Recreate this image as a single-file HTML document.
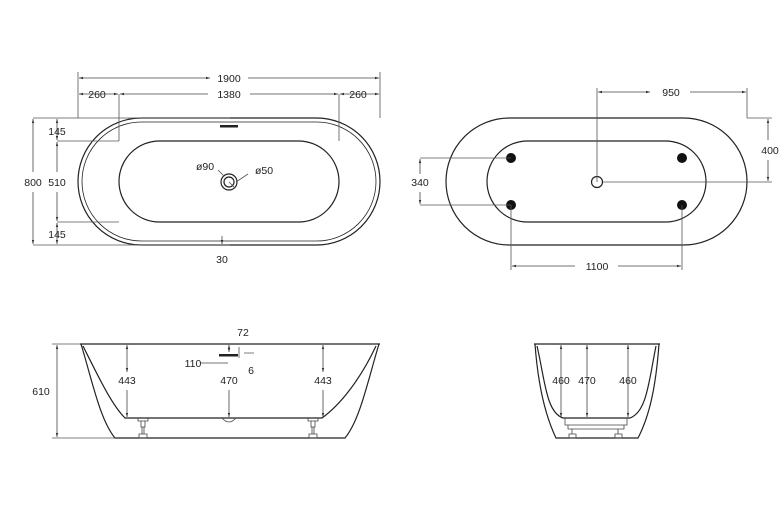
<!DOCTYPE html>
<html><head><style>body{margin:0;background:#fff}svg{display:block}text{font-family:"Liberation Sans",sans-serif;font-size:10.5px;fill:#222;text-anchor:middle}</style></head><body>
<svg width="784" height="514" viewBox="0 0 784 514" xmlns="http://www.w3.org/2000/svg">
<defs><marker id="a" viewBox="0 0 10 10" refX="10" refY="5" markerWidth="5" markerHeight="5" orient="auto-start-reverse"><path d="M0,2L10,5L0,8z" fill="#333"/></marker></defs>
<g fill="none" stroke="#222" stroke-width="1.2">
<rect x="78" y="118" width="302" height="127" rx="63.5"/>
<rect x="82" y="122" width="294" height="119" rx="59.5" stroke-width="0.8"/>
<rect x="119" y="141" width="220" height="81" rx="40.5"/>
<circle cx="229" cy="182" r="8"/><circle cx="229" cy="182" r="5"/>
<rect x="446" y="118" width="301" height="127" rx="63.5"/>
<rect x="487" y="141" width="219" height="81" rx="40.5"/>
<circle cx="597" cy="182" r="5.5"/>
<path d="M80,344 H380 M81,344 C92,380 100,420 115,438 H345 C360,420 368,380 379,344"/>
<path d="M83,346 C100,380 112,405 125,418 H322 C340,405 360,380 376,346"/>
<path d="M534,344 H660 M535,344 C538,385 545,415 556,438 H638 C650,415 656,385 659,344"/>
<path d="M537,346 C545,380 546,412 563,418 H630 C647,412 649,380 656,346"/>
</g>
<rect x="220" y="125" width="18" height="2.5" fill="#222"/>
<rect x="219" y="354" width="19" height="2.5" fill="#222"/>
<g fill="#111"><circle cx="511" cy="158" r="5"/><circle cx="682" cy="158" r="5"/><circle cx="511" cy="205" r="5"/><circle cx="682" cy="205" r="5"/></g>
<g fill="none" stroke="#444" stroke-width="0.8">
<path d="M138,418 v3 h10 v-3 M141,421 v6 h4 v-6 M142,427 v7 M144,427 v7 M139,434 h8 v4 h-8z"/>
<path d="M308,418 v3 h10 v-3 M311,421 v6 h4 v-6 M312,427 v7 M314,427 v7 M309,434 h8 v4 h-8z"/>
<path d="M222,418 q7,8 14,0"/>
<path d="M565,418 v7 h62 v-7 M568,425 v4 h56 v-4 M572,429 v5 M618,429 v5 M569,434 h7 v4 h-7z M615,434 h7 v4 h-7z"/>
</g>
<g fill="none" stroke="#555" stroke-width="0.8">
<path d="M78,72 V118 M380,72 V118 M119,94 V141 M339,94 V141 M33,118 H230 M33,245 H230 M57,141 H119 M57,222 H119 M597,88 V182 M747,88 V118 M747,118 H772 M603,182 H772 M420,158 H511 M420,205 H511 M511,205 V270 M682,205 V270 M52,344 H80 M52,438 H115"/>
<path d="M236,182 L248,174 M224,176 L218,170 M229,182 l6,6 M239,347 V358 M244,353 H254"/>
</g>
<g stroke="#444" stroke-width="0.8" marker-start="url(#a)" marker-end="url(#a)">
<line x1="79" y1="78" x2="210" y2="78"/><line x1="248" y1="78" x2="379" y2="78" marker-start="none"/>
<line x1="79" y1="94" x2="118" y2="94"/><line x1="120" y1="94" x2="208" y2="94" marker-end="none"/><line x1="250" y1="94" x2="338" y2="94" marker-start="none"/><line x1="340" y1="94" x2="379" y2="94"/>
<line x1="33" y1="119" x2="33" y2="172" marker-end="none"/><line x1="33" y1="192" x2="33" y2="244" marker-start="none"/>
<line x1="57" y1="119" x2="57" y2="140"/><line x1="57" y1="142" x2="57" y2="172" marker-end="none"/><line x1="57" y1="192" x2="57" y2="221" marker-start="none"/><line x1="57" y1="223" x2="57" y2="244"/>
<line x1="222" y1="236" x2="222" y2="244" marker-start="none"/>
<line x1="598" y1="92" x2="650" y2="92" /><line x1="690" y1="92" x2="746" y2="92" marker-start="none"/>
<line x1="768" y1="119" x2="768" y2="140" marker-end="none"/><line x1="768" y1="160" x2="768" y2="181" marker-start="none"/>
<line x1="420" y1="159" x2="420" y2="174" marker-end="none"/><line x1="420" y1="192" x2="420" y2="204" marker-start="none"/>
<line x1="512" y1="266" x2="575" y2="266" marker-end="none"/><line x1="618" y1="266" x2="681" y2="266" marker-start="none"/>
<line x1="57" y1="345" x2="57" y2="437"/>
<line x1="127" y1="345" x2="127" y2="372"/><line x1="127" y1="390" x2="127" y2="417" marker-start="none"/>
<line x1="229" y1="345" x2="229" y2="352"/><line x1="229" y1="390" x2="229" y2="417" marker-start="none"/>
<line x1="323" y1="345" x2="323" y2="372"/><line x1="323" y1="390" x2="323" y2="417" marker-start="none"/>
<line x1="561" y1="345" x2="561" y2="417"/><line x1="587" y1="345" x2="587" y2="417"/><line x1="628" y1="345" x2="628" y2="417"/>
<line x1="200" y1="363" x2="228" y2="363" marker-start="none" marker-end="none"/>
</g>
<text x="229" y="82">1900</text>
<text x="97" y="98">260</text><text x="229" y="98">1380</text><text x="358" y="98">260</text>
<text x="57" y="135">145</text><text x="57" y="186">510</text><text x="57" y="238">145</text>
<text x="33" y="186">800</text><text x="222" y="263">30</text>
<text x="205" y="170">ø90</text><text x="264" y="174">ø50</text>
<text x="671" y="96">950</text><text x="770" y="154">400</text><text x="420" y="186">340</text><text x="597" y="270">1100</text>
<text x="243" y="336">72</text><text x="193" y="367">110</text><text x="251" y="374">6</text>
<text x="41" y="395">610</text><text x="127" y="384">443</text><text x="229" y="384">470</text><text x="323" y="384">443</text>
<text x="561" y="384">460</text><text x="587" y="384">470</text><text x="628" y="384">460</text>
</svg>
</body></html>
